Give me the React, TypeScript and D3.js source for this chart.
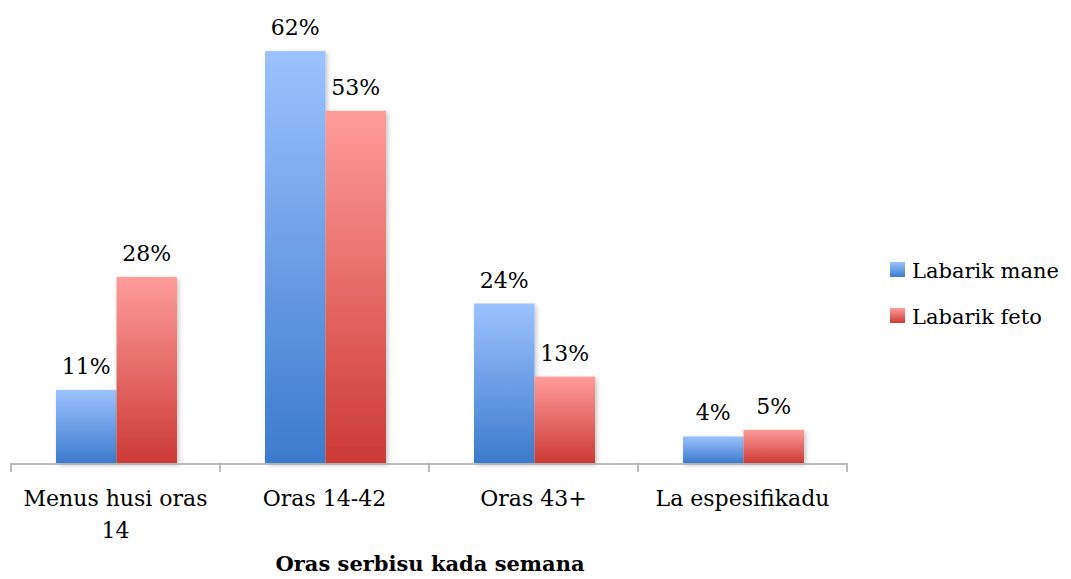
import React from "react";
import * as d3 from "d3";

const categories = ["Menus husi oras 14", "Oras 14-42", "Oras 43+", "La espesifikadu"];
const categoryLines = [["Menus husi oras", "14"], ["Oras 14-42"], ["Oras 43+"], ["La espesifikadu"]];
const seriesNames = ["Labarik mane", "Labarik feto"];
const maneValues = [11, 62, 24, 4];
const fetoValues = [28, 53, 13, 5];
const axisTitle = "Oras serbisu kada semana";

const FONT = "'DejaVu Serif', serif";

export default function App() {
  const width = 1071;
  const height = 579;
  const x0 = d3.scaleBand<string>().domain(categories).range([11, 847]).paddingInner(0).paddingOuter(0);
  const x1 = d3.scaleBand<string>().domain(seriesNames).range([0, 121]);
  const y = d3.scaleLinear().domain([0, 62]).range([463, 51]);
  const values = [maneValues, fetoValues];
  const grads = ["gBlue", "gRed"];
  const ticks = [...categories.map((c) => x0(c)!), 847];

  return (
    <svg width={width} height={height} style={{ position: "absolute", left: 0, top: 0 }}>
      <defs>
        <linearGradient id="gBlue" x1="0" y1="0" x2="0" y2="1">
          <stop offset="0" stopColor="#9cc2ff" />
          <stop offset="1" stopColor="#3c7bcc" />
        </linearGradient>
        <linearGradient id="gRed" x1="0" y1="0" x2="0" y2="1">
          <stop offset="0" stopColor="#ff9c9a" />
          <stop offset="1" stopColor="#cc3a36" />
        </linearGradient>
        <filter id="shadow" x="-20%" y="-20%" width="140%" height="140%">
          <feDropShadow dx="2" dy="2" stdDeviation="2" floodColor="#000" floodOpacity="0.22" />
        </filter>
      </defs>
      <rect width={width} height={height} fill="#fff" />
      {categories.map((c, ci) => {
        const bw = x0.bandwidth();
        const gx = x0(c)! + 45;
        return (
          <g key={c}>
            {seriesNames.map((s, si) => {
              const v = values[si][ci];
              const bx = gx + x1(s)!;
              return (
                <g key={s}>
                  <rect
                    x={bx}
                    y={y(v)}
                    width={x1.bandwidth()}
                    height={y(0) - y(v)}
                    fill={`url(#${grads[si]})`}
                    filter="url(#shadow)"
                  />
                  <text
                    x={bx + x1.bandwidth() / 2}
                    y={y(v) - 16}
                    textAnchor="middle"
                    fontFamily={FONT}
                    fontSize={22}
                    fill="#000"
                  >
                    {v}%
                  </text>
                </g>
              );
            })}
            {categoryLines[ci].map((line, li) => (
              <text
                key={li}
                x={x0(c)! + bw / 2}
                y={506 + li * 32}
                textAnchor="middle"
                fontFamily={FONT}
                fontSize={22}
                fill="#000"
              >
                {line}
              </text>
            ))}
          </g>
        );
      })}
      <line x1={11} x2={847} y1={464} y2={464} stroke="#a6a6a6" strokeWidth={1.5} />
      {ticks.map((t, i) => (
        <line key={i} x1={t} x2={t} y1={463} y2={472} stroke="#a6a6a6" strokeWidth={1.5} />
      ))}
      <text x={430} y={571} textAnchor="middle" fontFamily={FONT} fontSize={21} fontWeight="bold" fill="#000">
        {axisTitle}
      </text>
      {seriesNames.map((s, si) => (
        <g key={s} transform={`translate(890, ${262 + si * 46})`}>
          <rect x={0} y={0} width={15} height={15} fill={`url(#${grads[si]})`} />
          <text x={22} y={16} fontFamily={FONT} fontSize={21} fill="#000">
            {s}
          </text>
        </g>
      ))}
    </svg>
  );
}
